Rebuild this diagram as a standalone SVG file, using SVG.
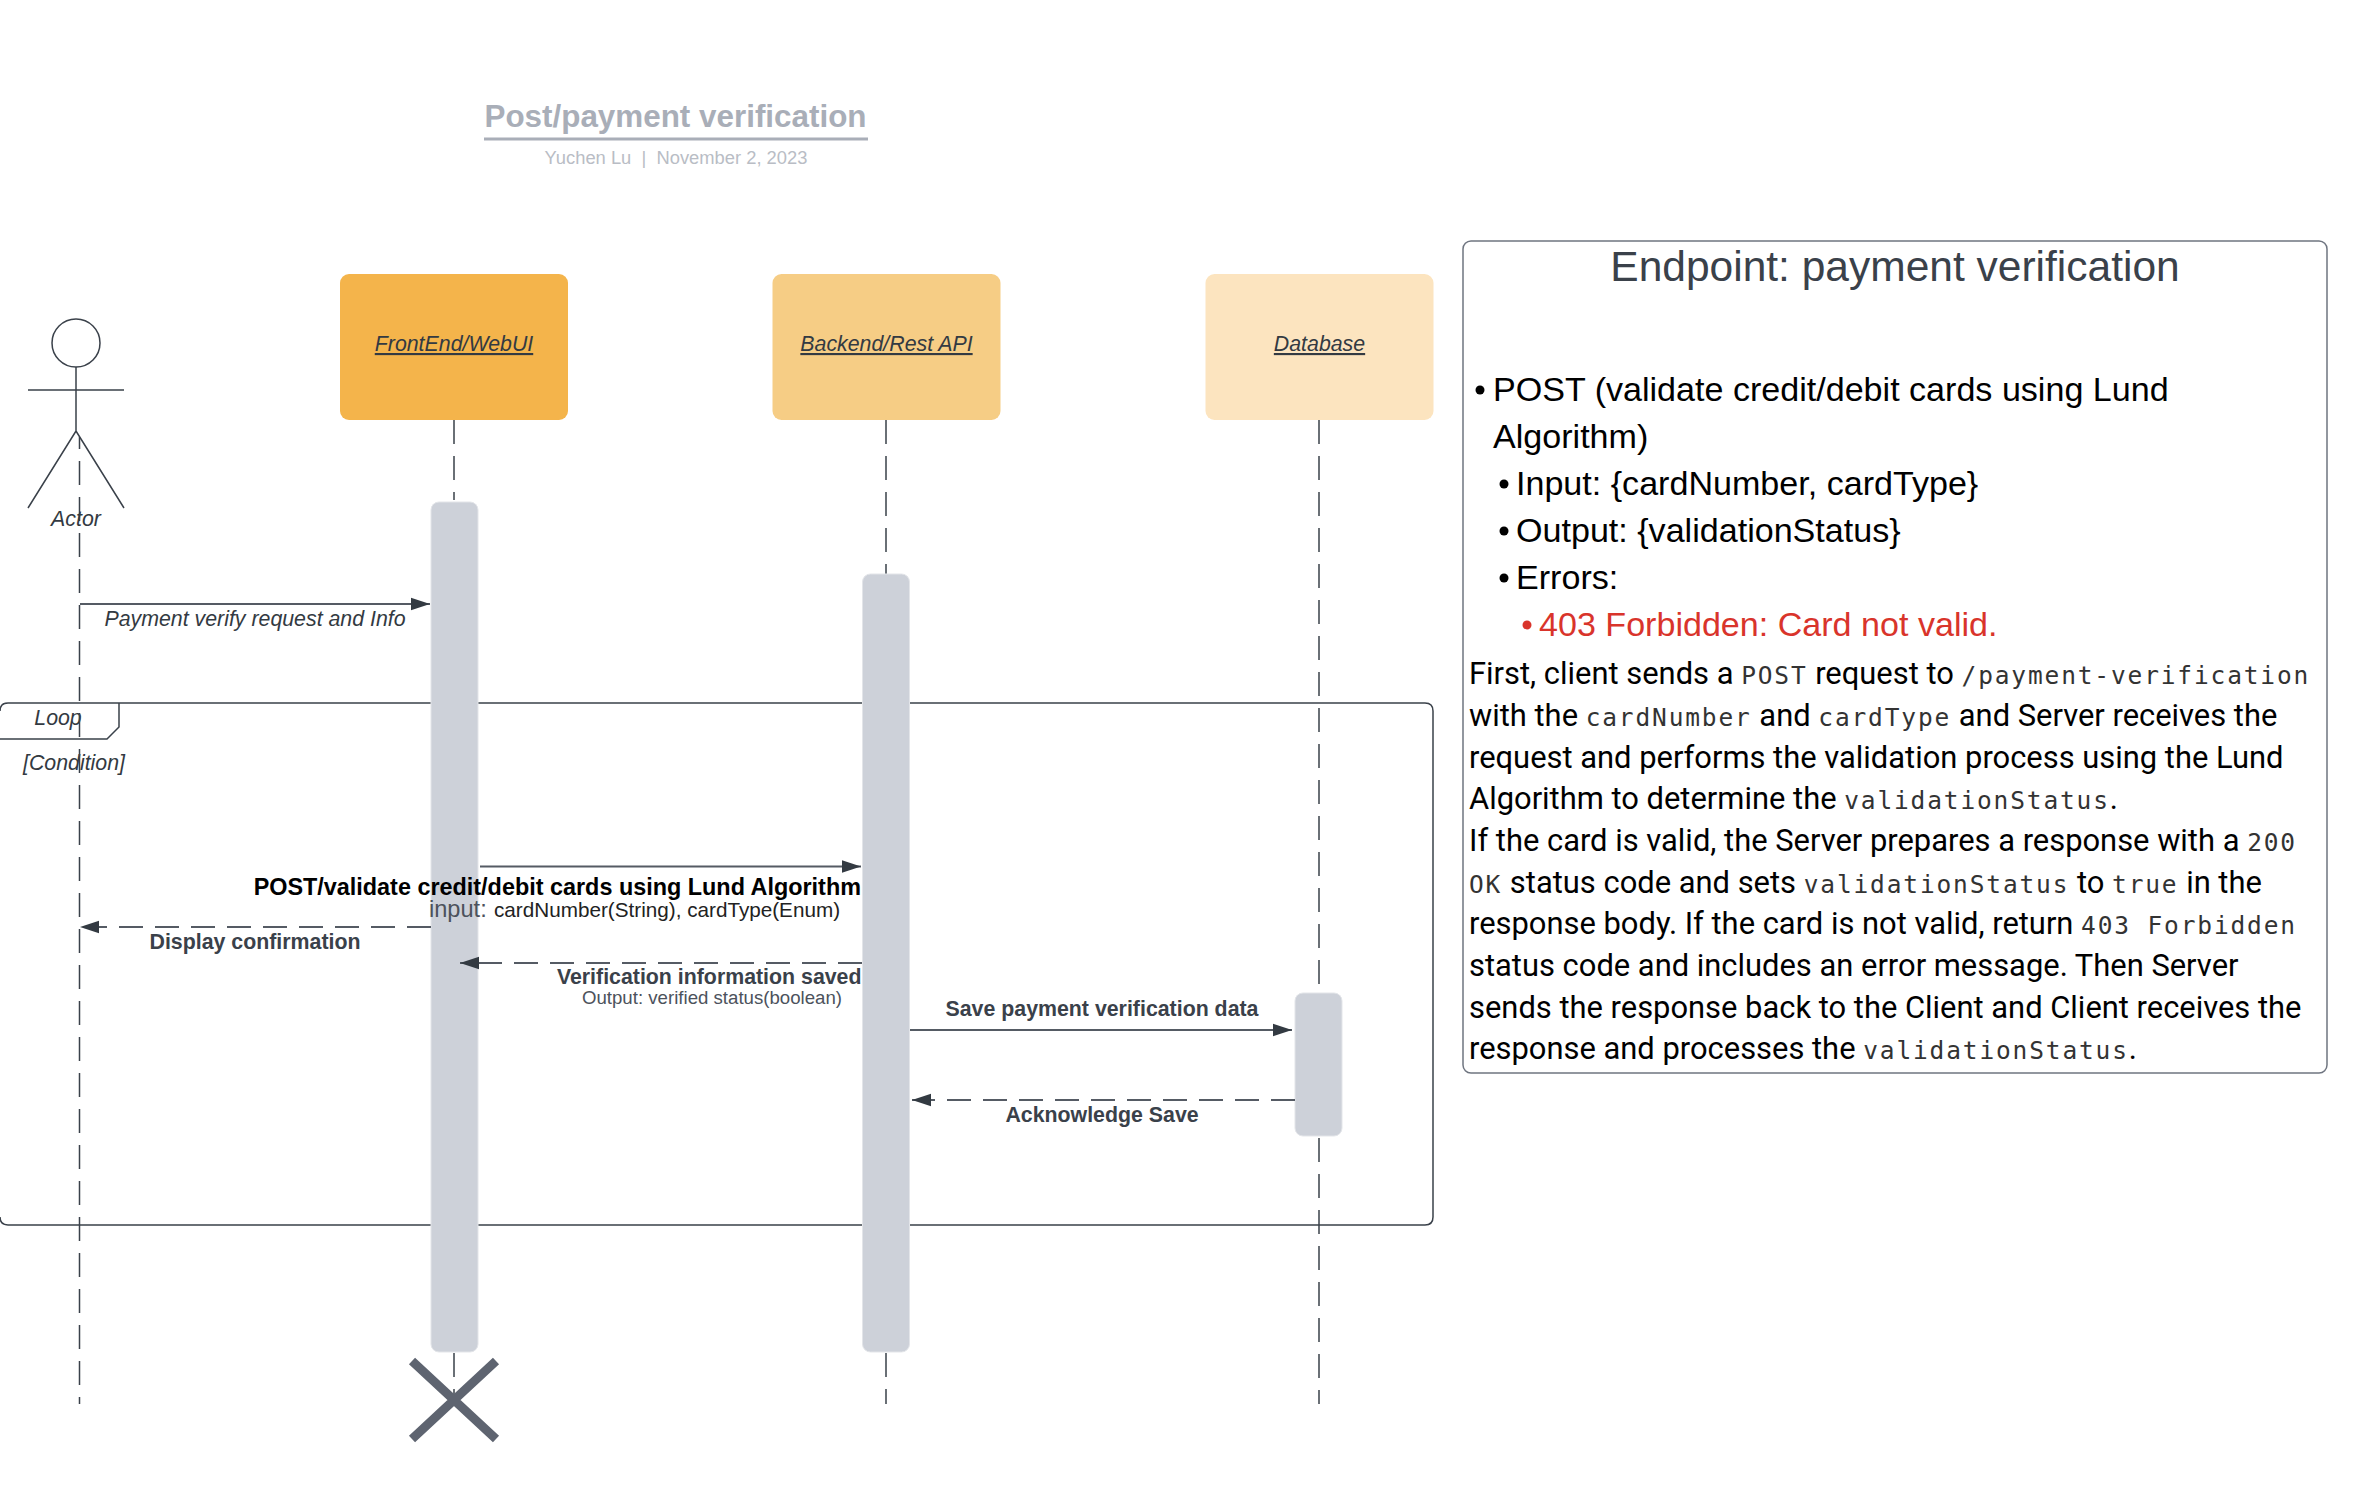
<svg xmlns="http://www.w3.org/2000/svg" width="2354" height="1490" viewBox="0 0 2354 1490">
<defs>
<marker id="ah" markerUnits="userSpaceOnUse" markerWidth="19" markerHeight="14" refX="19" refY="7" orient="auto"><path d="M0 0.800L19 7L0 13.200Z" fill="#333a42"/></marker>
</defs>
<style>
text{font-family:"Liberation Sans",Arial,sans-serif}
.life{fill:none;stroke:#3a414a;stroke-width:1.5;stroke-dasharray:24 12}
.act{fill:#cdd1d9;stroke:#e3e5e9;stroke-width:1}
.msg{fill:none;stroke:#555b64;stroke-width:1.8;marker-end:url(#ah)}
.ret{fill:none;stroke:#555b64;stroke-width:1.8;stroke-dasharray:24 12;marker-end:url(#ah)}
.it{font-style:italic;font-size:21.33px;fill:#333a42}
.bd{font-weight:bold;font-size:21.33px;fill:#3a414a}
.li{font-size:34.1px;fill:#000}
.p{font-family:Roboto,sans-serif;font-size:30.9px;fill:#000}
.p tspan{font-family:"DejaVu Sans Mono",monospace;font-size:24.5px;letter-spacing:1.85px;fill:#333}
</style>
<rect width="2354" height="1490" fill="#fff"/>
<g id="title">
<text x="675.500" y="127" text-anchor="middle" font-size="31.4" font-weight="bold" fill="#a9aeb8">Post/payment verification</text>
<line x1="484" y1="139" x2="868" y2="139" stroke="#a9aeb8" stroke-width="3"/>
<text x="676" y="163.500" text-anchor="middle" font-size="18.350" fill="#b9bdc5" xml:space="preserve">Yuchen Lu  |  November 2, 2023</text>
</g>
<g id="loop">
<path d="M0 711Q0 703 8 703H1425Q1433 703 1433 711V1217Q1433 1225 1425 1225H8Q0 1225 0 1217" fill="none" stroke="#3a414a" stroke-width="1.500"/>
<path d="M0 739H107L119 727V703" fill="none" stroke="#3a414a" stroke-width="1.500"/>
<text x="58" y="725" text-anchor="middle" class="it">Loop</text>
<text x="74" y="770" text-anchor="middle" class="it">[Condition]</text>
</g>
<g id="lifelines">
<path class="life" d="M79.500 437V1404" stroke-dashoffset="12"/>
<path class="life" d="M454 420V500"/>
<path class="life" d="M454 1353V1400"/>
<path class="life" d="M886 420V574"/>
<path class="life" d="M886 1353V1404"/>
<path class="life" d="M1319 420V993"/>
<path class="life" d="M1319 1138V1404"/>
</g>
<g id="actor">
<circle cx="76" cy="343" r="24" fill="none" stroke="#3a414a" stroke-width="1.500"/>
<path d="M76 367V431M28 390H124M28 508L76 431L124 508" fill="none" stroke="#3a414a" stroke-width="1.500"/>
<text x="76" y="526" text-anchor="middle" class="it">Actor</text>
</g>
<g id="frontend">
<rect x="340" y="274" width="228" height="146" rx="9" fill="#f4b44b"/>
<text x="454" y="351" text-anchor="middle" class="it" text-decoration="underline">FrontEnd/WebUI</text>
</g>
<g id="backend">
<rect x="772.500" y="274" width="228" height="146" rx="9" fill="#f6cd85"/>
<text x="886.500" y="351" text-anchor="middle" class="it" text-decoration="underline">Backend/Rest API</text>
</g>
<g id="database">
<rect x="1205.500" y="274" width="228" height="146" rx="9" fill="#fce4bf"/>
<text x="1319.500" y="351" text-anchor="middle" class="it" text-decoration="underline">Database</text>
</g>
<g id="act-frontend"><rect class="act" x="431" y="502" width="47" height="850" rx="8"/></g>
<g id="act-backend"><rect class="act" x="862.500" y="574" width="47" height="778" rx="8"/></g>
<g id="act-database"><rect class="act" x="1295" y="993" width="47" height="143" rx="8"/></g>
<g id="connectors">
<path class="msg" d="M80 604H430"/>
<path class="msg" d="M480 866.500H861"/>
<path class="ret" d="M431 927H80"/>
<path class="ret" d="M862 963H460"/>
<path class="msg" d="M910 1030H1292"/>
<path class="ret" d="M1295 1100H912"/>
</g>
<g id="labels">
<text x="255" y="626" text-anchor="middle" class="it">Payment verify request and Info</text>
<text x="861" y="895" text-anchor="end" font-size="23.4" font-weight="bold" fill="#000">POST/validate credit/debit cards using Lund Algorithm</text>
<text x="429" y="917" font-size="23.6" fill="#4c525c">input:</text>
<text x="494" y="917" font-size="20.7" fill="#222">cardNumber(String), cardType(Enum)</text>
<text x="255" y="948.500" text-anchor="middle" class="bd">Display confirmation</text>
<text x="861.500" y="984" text-anchor="end" class="bd">Verification information saved</text>
<text x="712" y="1004" text-anchor="middle" font-size="18.650" fill="#4c525c">Output: verified status(boolean)</text>
<text x="1102" y="1016" text-anchor="middle" class="bd">Save payment verification data</text>
<text x="1102" y="1122" text-anchor="middle" class="bd">Acknowledge Save</text>
</g>
<g id="destroy"><path d="M412 1361L496 1439M496 1361L412 1439" stroke="#5e6470" stroke-width="9" fill="none"/></g>
<g id="panel">
<rect x="1463" y="241" width="864" height="832" rx="8" fill="none" stroke="#6f7580" stroke-width="1.500"/>
<text x="1895" y="281" text-anchor="middle" font-size="42.5" fill="#3a414a">Endpoint: payment verification</text>
<g>
<circle cx="1480" cy="390" r="4.500" fill="#000"/><text class="li" x="1493" y="401">POST (validate credit/debit cards using Lund</text>
<text class="li" x="1493" y="448">Algorithm)</text>
<circle cx="1504" cy="484" r="4.500" fill="#000"/><text class="li" x="1516" y="495">Input: {cardNumber, cardType}</text>
<circle cx="1504" cy="531" r="4.500" fill="#000"/><text class="li" x="1516" y="542">Output: {validationStatus}</text>
<circle cx="1504" cy="578" r="4.500" fill="#000"/><text class="li" x="1516" y="589">Errors:</text>
<circle cx="1527" cy="625" r="4.500" fill="#d9342b"/><text class="li" x="1539" y="636" style="fill:#d9342b">403 Forbidden: Card not valid.</text>
</g>
<text class="p" x="1469" y="684" xml:space="preserve">First, client sends a <tspan>POST</tspan> request to <tspan>/payment-verification</tspan></text>
<text class="p" x="1469" y="726" xml:space="preserve">with the <tspan>cardNumber</tspan> and <tspan>cardType</tspan> and Server receives the</text>
<text class="p" x="1469" y="768">request and performs the validation process using the Lund</text>
<text class="p" x="1469" y="809" xml:space="preserve">Algorithm to determine the <tspan>validationStatus</tspan>.</text>
<text class="p" x="1469" y="851" xml:space="preserve">If the card is valid, the Server prepares a response with a <tspan>200</tspan></text>
<text class="p" x="1469" y="893" xml:space="preserve"><tspan>OK</tspan> status code and sets <tspan>validationStatus</tspan> to <tspan>true</tspan> in the</text>
<text class="p" x="1469" y="934" xml:space="preserve">response body. If the card is not valid, return <tspan>403 Forbidden</tspan></text>
<text class="p" x="1469" y="976">status code and includes an error message. Then Server</text>
<text class="p" x="1469" y="1018">sends the response back to the Client and Client receives the</text>
<text class="p" x="1469" y="1059" xml:space="preserve">response and processes the <tspan>validationStatus</tspan>.</text>
</g>
</svg>
